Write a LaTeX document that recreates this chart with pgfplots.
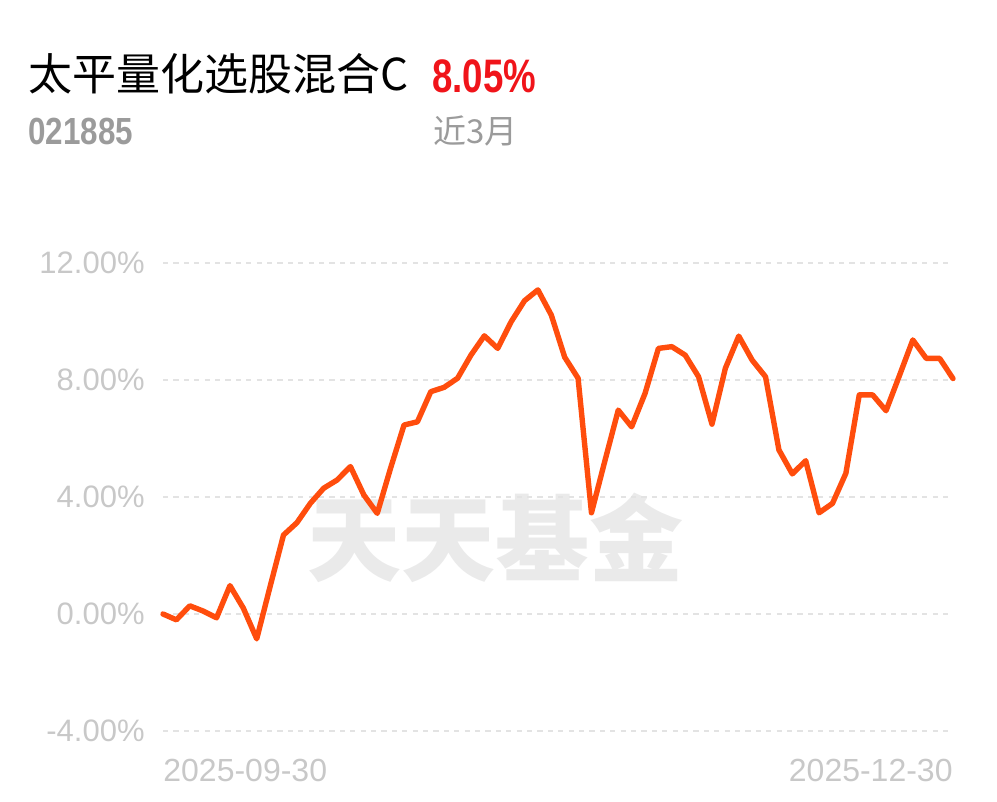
\documentclass[border=0pt]{standalone}
\usepackage{fontspec}
\usepackage{graphicx}
\usepackage{pgfplots}
\pgfplotsset{compat=1.18}
\setmainfont{Liberation Sans}
\newfontfamily\cjk{Noto Sans CJK SC}
\definecolor{lineor}{HTML}{FF4D0D}
\definecolor{upred}{HTML}{F0141A}
\definecolor{codegray}{HTML}{9B9B9B}
\definecolor{tickgray}{HTML}{C8C8C8}
\definecolor{gridgray}{HTML}{E3E3E3}
\definecolor{wmgray}{HTML}{EAEAEA}

\pgfplotstableread{
i v
0 0.00
1 -0.20
2 0.28
3 0.10
4 -0.13
5 0.97
6 0.20
7 -0.85
8 0.94
9 2.70
10 3.12
11 3.78
12 4.30
13 4.58
14 5.04
15 4.07
16 3.44
17 4.99
18 6.46
19 6.57
20 7.60
21 7.75
22 8.06
23 8.85
24 9.51
25 9.08
26 9.99
27 10.71
28 11.08
29 10.22
30 8.78
31 8.06
32 3.46
33 5.23
34 6.97
35 6.40
36 7.54
37 9.08
38 9.14
39 8.85
40 8.11
41 6.49
42 8.40
43 9.50
44 8.68
45 8.11
46 5.61
47 4.79
48 5.24
49 3.46
50 3.78
51 4.81
52 7.49
53 7.49
54 6.95
55 8.15
56 9.37
57 8.74
58 8.74
59 8.05
}\navdata

\begin{document}
\begin{tikzpicture}
\path[use as bounding box] (0,0) rectangle (498.5pt,401pt);

% header
\node[anchor=base west,inner sep=0pt] at (14pt,355.5pt) {\cjk\fontsize{22}{22}\selectfont 太平量化选股混合C};
\node[anchor=base west,inner sep=0pt,text=upred] at (216pt,354.5pt) {\scalebox{0.78}[1]{\fontsize{23.5}{24}\selectfont\bfseries 8.05\%}};
\node[anchor=base west,inner sep=0pt,text=codegray] at (14pt,328.5pt) {\scalebox{0.83}[1]{\fontsize{18.9}{19}\selectfont\bfseries 021885}};
\node[anchor=base west,inner sep=0pt,text=codegray] at (216.5pt,329pt) {\cjk\fontsize{16.5}{17}\selectfont 近3月};

% watermark
\node[text=wmgray,inner sep=0pt] at (247.5pt,132pt) {\cjk\bfseries\fontsize{47}{47}\selectfont 天天基金};

\begin{axis}[
  at={(81.5pt,35.5pt)}, anchor=south west,
  scale only axis, width=395pt, height=234pt,
  xmin=0, xmax=59, ymin=-4, ymax=12,
  clip=false,
  axis line style={draw=none},
  tick style={draw=none},
  xtick=\empty,
  ytick={-4,0,4,8,12},
  yticklabels={-4.00\%,0.00\%,4.00\%,8.00\%,12.00\%},
  yticklabel style={font=\fontsize{15.5}{16}\selectfont, text=tickgray, anchor=east, inner sep=0pt, xshift=-9pt},
  ymajorgrids,
  grid style={draw=gridgray, line width=1pt, dash pattern=on 2.6pt off 2.6pt},
]
\addplot[lineor, line width=2.7pt, line join=round, line cap=round] table[x=i,y=v] {\navdata};
\end{axis}

% x labels
\node[anchor=base west,inner sep=0pt,text=tickgray] at (81.5pt,10pt) {\fontsize{16}{16}\selectfont 2025-09-30};
\node[anchor=base east,inner sep=0pt,text=tickgray] at (476.5pt,10pt) {\fontsize{16}{16}\selectfont 2025-12-30};
\end{tikzpicture}
\end{document}
